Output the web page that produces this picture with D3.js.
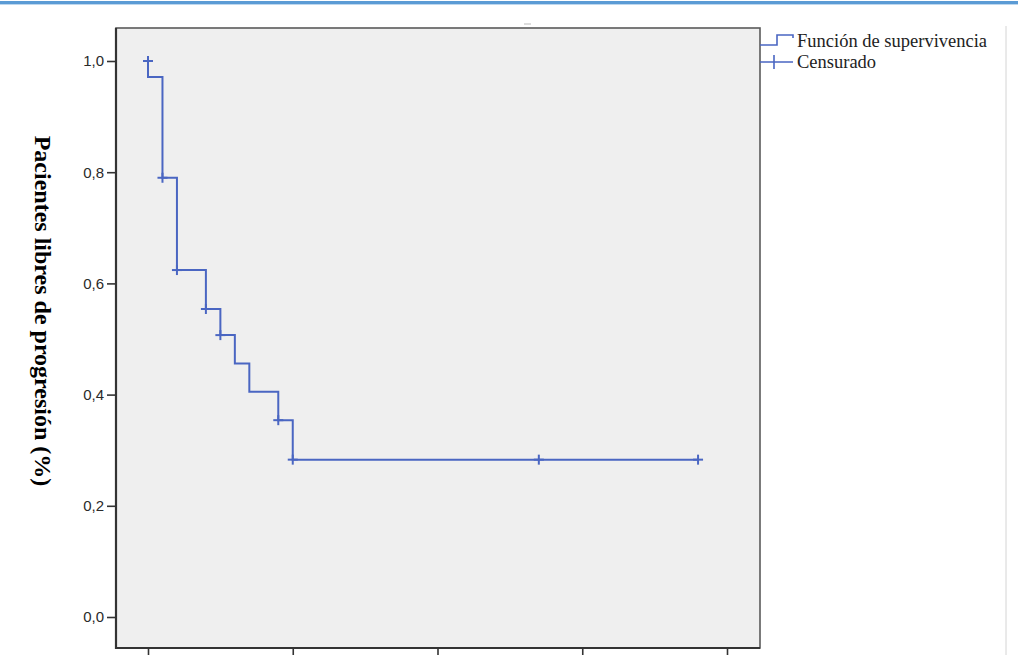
<!DOCTYPE html>
<html><head><meta charset="utf-8">
<script src="https://cdn.jsdelivr.net/npm/d3@7"></script>
<style>body{margin:0;background:#fff;}svg{display:block;}</style>
</head><body>
<svg id="c" width="1018" height="655"></svg>
<script>
// ---- data ----
const stepTimes = [0, 0, 2, 4, 8, 10, 12, 14, 18, 20];
const stepSurvival = [1.0, 0.971, 0.79, 0.624, 0.554, 0.507, 0.456, 0.405, 0.354, 0.283];
const lastTime = 76;
const censorTimes = [0, 2, 4, 8, 10, 18, 20, 54, 76];
const censorSurvival = [1.0, 0.79, 0.624, 0.554, 0.507, 0.354, 0.283, 0.283, 0.283];
const yTicks = [0, 0.2, 0.4, 0.6, 0.8, 1.0];
const xTicks = [0, 20, 40, 60, 80];
const yLabel = "Pacientes libres de progresión (%)";
const legendLabels = ["Función de supervivencia", "Censurado"];

const svg = d3.select("#c");
const blue = "#4a66c2";
const P = {l:116, r:760, t:28, b:648};

// top decorative stripe
svg.append("rect").attr("x",0).attr("y",1).attr("width",1018).attr("height",3).attr("fill","#5b9bd5");
svg.append("rect").attr("x",0).attr("y",4).attr("width",1018).attr("height",1).attr("fill","#bdd7ee");
svg.append("line").attr("x1",1006).attr("x2",1006).attr("y1",26).attr("y2",655).attr("stroke","#d4d4d4").attr("stroke-width",1);
svg.append("line").attr("x1",524).attr("x2",531).attr("y1",24).attr("y2",24).attr("stroke","#bbb").attr("stroke-width",1);

const x = d3.scaleLinear().domain([0,80]).range([148,727]);
const y = d3.scaleLinear().domain([0,1]).range([617,61]);

svg.append("rect").attr("x",P.l).attr("y",P.t).attr("width",P.r-P.l).attr("height",P.b-P.t)
  .attr("fill","#efefef").attr("stroke","#5a5a5a").attr("stroke-width",1.6);

const loc = d3.formatLocale({decimal:",", thousands:".", grouping:[3], currency:["","€"]});
const fmt = loc.format(".1f");

const yAx = svg.append("g").attr("transform",`translate(${P.l},0)`)
  .call(d3.axisLeft(y).tickValues(yTicks).tickFormat(fmt).tickSize(9).tickPadding(3));
yAx.select(".domain").remove();
yAx.selectAll(".tick line").attr("stroke","#333").attr("stroke-width",1.6);
yAx.selectAll(".tick text").attr("font-family","Liberation Sans, Arial, sans-serif").attr("font-size",15).attr("fill","#2a2a2a");

// x tick labels fall below the visible frame in the reference, so only tick marks are drawn
const xAx = svg.append("g").attr("transform",`translate(0,${P.b})`)
  .call(d3.axisBottom(x).tickValues(xTicks).tickSize(9).tickFormat(() => ""));
xAx.select(".domain").remove();
xAx.selectAll(".tick line").attr("stroke","#333").attr("stroke-width",1.6);

// left and bottom border stronger
svg.append("line").attr("x1",P.l).attr("x2",P.l).attr("y1",P.t).attr("y2",P.b+1).attr("stroke","#333").attr("stroke-width",2.2);
svg.append("line").attr("x1",P.l).attr("x2",P.r).attr("y1",P.b).attr("y2",P.b).attr("stroke","#333").attr("stroke-width",2.2);

// survival step line
const pts = stepTimes.map((t,i)=>[t, stepSurvival[i]]);
pts.push([lastTime, stepSurvival[stepSurvival.length-1]]);
const line = d3.line().x(d=>x(d[0])).y(d=>y(d[1])).curve(d3.curveStepAfter);
svg.append("path").attr("d", line(pts)).attr("fill","none").attr("stroke",blue).attr("stroke-width",2);

// censor marks
const cg = svg.append("g").attr("stroke",blue).attr("stroke-width",2);
censorTimes.forEach((t,i)=>{
  const cx = x(t), cy = y(censorSurvival[i]);
  cg.append("line").attr("x1",cx).attr("x2",cx).attr("y1",cy-5).attr("y2",cy+5);
  cg.append("line").attr("x1",cx-5).attr("x2",cx+5).attr("y1",cy).attr("y2",cy);
});

// y label
svg.append("text").attr("transform","translate(35,311) rotate(90)")
  .attr("text-anchor","middle").attr("font-family","Liberation Serif, Times New Roman, serif")
  .attr("font-weight","bold").attr("font-size",24).attr("fill","#000").text(yLabel);

// legend
const lg = svg.append("g").attr("fill","none").attr("stroke",blue).attr("stroke-width",1.6);
lg.append("path").attr("d","M760,45 H777 V35 H793 V38");
lg.append("path").attr("d","M760,62 H793 M774,55 V69");
svg.selectAll(".lgt").data(legendLabels).join("text").attr("class","lgt")
  .attr("x",797).attr("y",(d,i)=>47+i*21)
  .attr("font-family","Liberation Serif, Times New Roman, serif").attr("font-size",18.5)
  .attr("fill","#222").text(d=>d);
</script>
</body></html>
